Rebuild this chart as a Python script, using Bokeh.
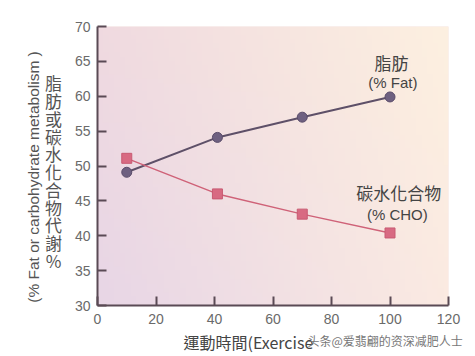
import numpy as np
from bokeh.plotting import figure
from bokeh.models import Label, FixedTicker, Range1d
from bokeh.layouts import row, column
from bokeh.embed import file_html
from bokeh.resources import INLINE

# ---- data ----
time_min = [10, 41, 70, 100]
fat_pct = [49.1, 54.1, 57.0, 59.9]
cho_pct = [51.1, 46.0, 43.1, 40.4]
x_ticks = [0, 20, 40, 60, 80, 100, 120]
y_ticks = [30, 35, 40, 45, 50, 55, 60, 65, 70]

y_label_en = "(% Fat or carbohydrate metabolism )"
y_label_zh = "脂肪或碳水化合物代謝%"
x_label = "運動時間(Exercise"
watermark = "头条@爱翡翩的资深减肥人士"

CJK = "Noto Sans CJK TC"
LAT = "Liberation Sans"

W, H = 475, 356
LW = 70          # width of left label strip
BH = 26          # height of bottom label strip
MH = H - BH

def blank(w, h, xr, yr):
    f = figure(width=w, height=h, output_backend="svg", toolbar_location=None,
               x_range=xr, y_range=yr, x_axis_location=None, y_axis_location=None,
               min_border=0)
    f.outline_line_color = None
    f.grid.visible = False
    f.background_fill_color = "white"
    f.border_fill_color = "white"
    return f

# ---- main plot ----
p = figure(width=W - LW, height=MH, output_backend="svg", toolbar_location=None,
           x_range=Range1d(0, 120), y_range=Range1d(30, 70),
           min_border_left=97 - LW, min_border_right=27, min_border_top=26,
           min_border_bottom=MH - 305)
p.outline_line_color = None
p.grid.visible = False
p.background_fill_color = "#f6e4e2"

# gradient background (style only)
n = 64
u = np.linspace(0, 1, n)[None, :]
v = np.linspace(0, 1, n)[:, None]
corners = {
    "bl": np.array([232, 214, 230]), "br": np.array([251, 234, 226]),
    "tl": np.array([240, 218, 224]), "tr": np.array([253, 240, 224]),
}
img = np.empty((n, n), dtype=np.uint32)
view = img.view(dtype=np.uint8).reshape((n, n, 4))
for c in range(3):
    val = ((1 - u) * (1 - v) * corners["bl"][c] + u * (1 - v) * corners["br"][c]
           + (1 - u) * v * corners["tl"][c] + u * v * corners["tr"][c])
    view[:, :, c] = val.astype(np.uint8)
view[:, :, 3] = 255
p.image_rgba(image=[img], x=0, y=30, dw=120, dh=40, level="image")

# series
p.line(time_min, fat_pct, line_color="#5e5068", line_width=2)
p.scatter(time_min, fat_pct, marker="circle", size=10, fill_color="#6e6080", line_color="#5a4c6a")
p.line(time_min, cho_pct, line_color="#cf6278", line_width=1.5)
p.scatter(time_min, cho_pct, marker="square", size=10, fill_color="#d86a82", line_color="#c85a72")

# axes
for ax in (p.xaxis[0], p.yaxis[0]):
    ax.axis_line_color = "#5a4a55"
    ax.axis_line_width = 2
    ax.major_tick_line_color = "#5a4a55"
    ax.major_tick_line_width = 2
    ax.major_tick_in = 9
    ax.major_tick_out = 0
    ax.minor_tick_line_color = None
    ax.major_label_text_font = LAT
    ax.major_label_text_font_size = "14px"
    ax.major_label_text_color = "#6a6a6a"
p.xaxis.ticker = FixedTicker(ticks=x_ticks)
p.yaxis.ticker = FixedTicker(ticks=y_ticks)
p.xaxis.major_label_standoff = 8
p.yaxis.major_label_standoff = 7

# series annotations (data units)
for tx, ty, t, fs, fnt in [(100.5, 64.9, "脂肪", "17px", CJK), (101.0, 62.0, "(% Fat)", "15px", LAT),
                           (103.0, 46.2, "碳水化合物", "17px", CJK), (102.5, 43.0, "(% CHO)", "15px", LAT)]:
    p.add_layout(Label(x=tx, y=ty, text=t, text_align="center", text_baseline="middle",
                       text_font=fnt, text_font_size=fs, text_color="#444444"))

# ---- left strip with y labels (pixel coordinates, top-down) ----
left = blank(LW, MH, Range1d(0, LW), Range1d(MH, 0))
left.add_layout(Label(x=33, y=178, text=y_label_en, angle=np.pi / 2,
                      text_align="center", text_baseline="middle", text_font=LAT,
                      text_font_size="15.5px", text_color="#555555"))
left.add_layout(Label(x=53, y=52, text="\n".join(y_label_zh),
                      text_align="center", text_baseline="top", text_font=CJK,
                      text_font_size="17px", text_line_height=0.71, text_color="#555555"))

# ---- bottom strip with x label and watermark ----
bottom = blank(W, BH, Range1d(0, W), Range1d(H, MH))
bottom.add_layout(Label(x=183, y=341, text=x_label, text_align="left", text_baseline="middle",
                        text_font=CJK, text_font_size="16px", text_color="#444444"))
bottom.add_layout(Label(x=307, y=340, text=watermark, text_align="left", text_baseline="middle",
                        text_font="Noto Sans CJK SC", text_font_size="12px", text_color="#777777"))

layout = column(row(left, p, spacing=0), bottom, spacing=0)

open("out.html", "w").write(file_html(layout, INLINE))
